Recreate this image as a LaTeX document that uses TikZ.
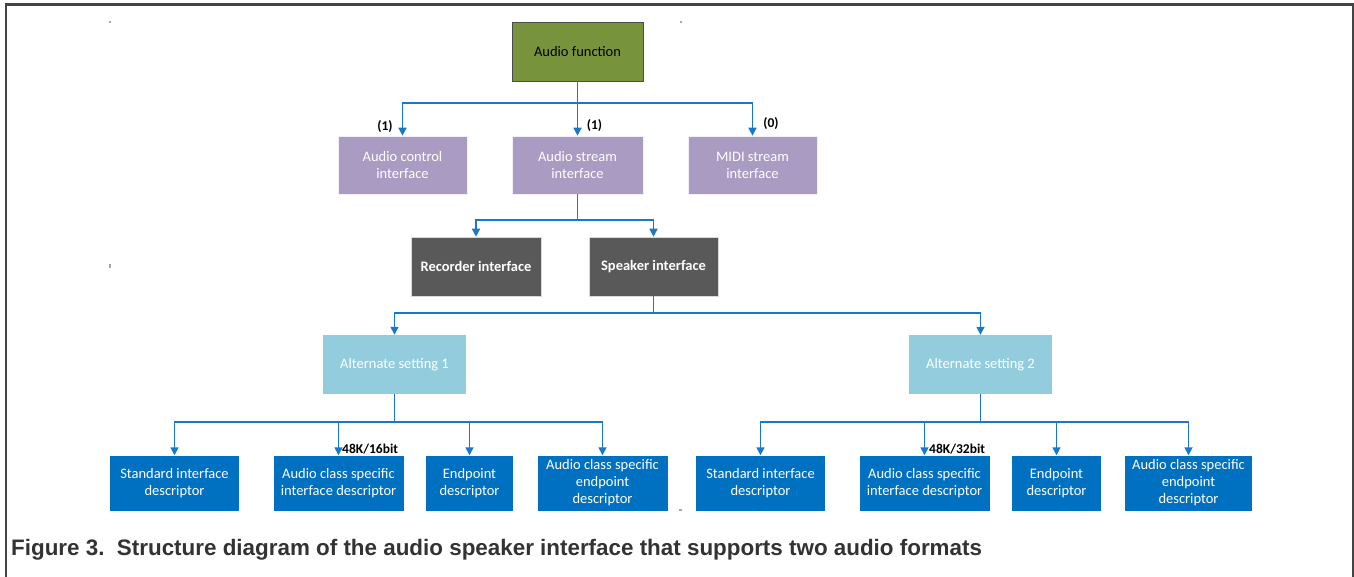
\documentclass[tikz,border=0pt]{standalone}
\usepackage{fontspec}
\setmainfont{Carlito}
\newfontfamily\capfont{Liberation Sans}
\usetikzlibrary{arrows.meta}
\definecolor{cOlive}{HTML}{77933C}
\definecolor{cPurple}{HTML}{AA9BC3}
\definecolor{cDark}{HTML}{595959}
\definecolor{cLight}{HTML}{93CDDD}
\definecolor{cBlue}{HTML}{0070C0}
\definecolor{cLine}{HTML}{1A78C8}
\definecolor{cFrame}{HTML}{444444}
\tikzset{
  x=1pt, y=-1pt,
  base/.style={rectangle, inner sep=0pt, align=center, font=\fontsize{14.5}{17}\selectfont},
  fnbox/.style={base, fill=cOlive, draw=black!70, line width=0.8pt, text=black},
  purbox/.style={base, fill=cPurple, draw=white!85!cPurple, line width=0.6pt, text=white},
  darkbox/.style={base, fill=cDark, draw=black!15, line width=0.6pt, text=white, font=\fontsize{14.5}{17}\selectfont\bfseries},
  altbox/.style={base, fill=cLight, text=white},
  descbox/.style={base, fill=cBlue, text=white},
  conn/.style={draw=cLine, line width=1.6pt},
  arr/.style={conn, -{Triangle[length=8pt,width=8pt]}},
  lbl/.style={inner sep=0pt, font=\fontsize{13.5}{15}\selectfont\bfseries, text=black},
  tickmark/.style={fill=gray!70, draw=none}
}
\begin{document}
\begin{tikzpicture}
\useasboundingbox (0,0) rectangle (1354,577);
\fill[white] (0,0) rectangle (1354,577);
% frame
\draw[cFrame, line width=2.5pt] (6,577) -- (6,4.5) -- (1352.8,4.5) -- (1352.8,577);
% tiny marks
\fill[tickmark] (108.5,21.5) rectangle (110.5,23.5);
\fill[tickmark] (679.5,21.5) rectangle (682,23.5);
\fill[tickmark] (108.5,264) rectangle (110.5,268);
\fill[tickmark] (679,508.5) rectangle (682,510.5);

% level 0
\node[fnbox, minimum width=131pt, minimum height=59pt] (af) at (577.5,51.5) {Audio function};
% level 1
\node[purbox, minimum width=129pt, minimum height=58pt] (ac) at (402.5,165) {Audio control\\interface};
\node[purbox, minimum width=131pt, minimum height=58pt] (as) at (577.5,165) {Audio stream\\interface};
\node[purbox, minimum width=129pt, minimum height=58pt] (midi) at (752.5,165) {MIDI stream\\interface};
% level 2
\node[darkbox, minimum width=130pt, minimum height=59pt] (rec) at (476,266.5) {Recorder interface};
\node[darkbox, minimum width=129pt, minimum height=59pt] (spk) at (653.5,266.5) {Speaker interface};
% level 3
\node[altbox, minimum width=143pt, minimum height=59pt] (alt1) at (394.5,364.5) {Alternate setting 1};
\node[altbox, minimum width=143pt, minimum height=59pt] (alt2) at (980.5,364.5) {Alternate setting 2};
% level 4
\node[descbox, minimum width=129pt, minimum height=55pt] (b1) at (174.5,483) {Standard interface\\descriptor};
\node[descbox, minimum width=130pt, minimum height=55pt] (b2) at (338.5,483) {Audio class specific\\interface descriptor};
\node[descbox, minimum width=87pt, minimum height=55pt] (b3) at (469.5,483) {Endpoint\\descriptor};
\node[descbox, minimum width=130pt, minimum height=55pt] (b4) at (602.5,483) {Audio class specific\\endpoint\\descriptor};
\node[descbox, minimum width=129pt, minimum height=55pt] (b5) at (760.5,483) {Standard interface\\descriptor};
\node[descbox, minimum width=130pt, minimum height=55pt] (b6) at (924.5,483) {Audio class specific\\interface descriptor};
\node[descbox, minimum width=89pt, minimum height=55pt] (b7) at (1056.5,483) {Endpoint\\descriptor};
\node[descbox, minimum width=127pt, minimum height=55pt] (b8) at (1188.5,483) {Audio class specific\\endpoint\\descriptor};

% junctions
\coordinate (j1) at (577.5,103);
\coordinate (j2) at (577.5,220);
\coordinate (j3) at (653.5,313);
\coordinate (j4) at (394.5,422);
\coordinate (j5) at (980.5,422);

% connectors
\draw[conn] (af) -- (j1);
\draw[arr] (j1) -| (ac);
\draw[arr] (j1) -- (as);
\draw[arr] (j1) -| (midi);

\draw[conn] (as) -- (j2);
\draw[arr] (j2) -| (rec);
\draw[arr] (j2) -| (spk);

\draw[conn] (spk) -- (j3);
\draw[arr] (j3) -| (alt1);
\draw[arr] (j3) -| (alt2);

\draw[conn] (alt1) -- (j4);
\draw[arr] (j4) -| (b1);
\draw[arr] (j4) -| (b2);
\draw[arr] (j4) -| (b3);
\draw[arr] (j4) -| (b4);

\draw[conn] (alt2) -- (j5);
\draw[arr] (j5) -| (b5);
\draw[arr] (j5) -| (b6);
\draw[arr] (j5) -| (b7);
\draw[arr] (j5) -| (b8);

% labels
\node[lbl] (l1) at (385,127) {(1)};
\node[lbl] (l2) at (594.5,126) {(1)};
\node[lbl] (l3) at (771,124) {(0)};
\node[lbl, anchor=west] (l4) at (342,449) {48K/16bit};
\node[lbl, anchor=west] (l5) at (929,449) {48K/32bit};

% caption
\node[anchor=base west, inner sep=0pt, text=black!80, font=\capfont\bfseries\fontsize{22.4}{25}\selectfont] (cap) at (11,555) {Figure 3.\ \ Structure diagram of the audio speaker interface that supports two audio formats};
\end{tikzpicture}
\end{document}
